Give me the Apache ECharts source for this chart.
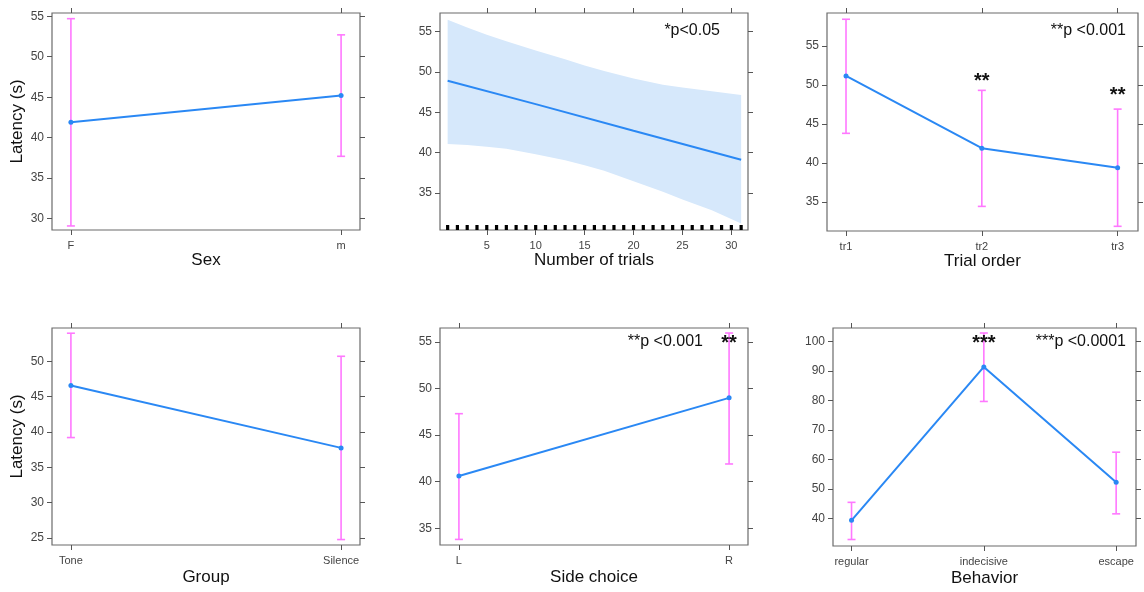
<!DOCTYPE html>
<html>
<head>
<meta charset="utf-8">
<script src="https://cdn.jsdelivr.net/npm/echarts@6/dist/echarts.min.js"></script>
<style>
  html, body { margin: 0; padding: 0; background: #fff; }
  #main { width: 1144px; height: 592px; }
</style>
</head>
<body>
<div id="main"></div>
<script>
// ---- data ----
var sexCats = ['F', 'm'];
var sexMean = [41.9, 45.2];
var sexLow = [29.1, 37.7];
var sexHigh = [54.7, 52.7];

// fitted line and its confidence band over trial number
var fitX = [1, 10, 20, 31];
var fitY = [48.9, 46.0, 42.7, 39.1];
var bandX = [1, 3, 5, 7, 10, 13, 15, 17, 20, 23, 25, 28, 31];
var bandUpper = [56.45, 55.5, 54.59, 53.8, 52.64, 51.57, 50.78, 50.12, 49.17, 48.42, 48.05, 47.6, 47.14];
var bandLower = [41.05, 40.93, 40.72, 40.47, 39.8, 39.06, 38.44, 37.74, 36.45, 35.13, 34.18, 32.85, 31.2];
var rugTrials = [1, 2, 3, 4, 5, 6, 7, 8, 9, 10, 11, 12, 13, 14, 15, 16, 17, 18, 19, 20, 21, 22, 23, 24, 25, 26, 27, 28, 29, 30, 31];

var orderCats = ['tr1', 'tr2', 'tr3'];
var orderMean = [51.15, 41.9, 39.4];
var orderLow = [43.8, 34.45, 31.9];
var orderHigh = [58.4, 49.3, 46.9];

var groupCats = ['Tone', 'Silence'];
var groupMean = [46.56, 37.74];
var groupLow = [39.2, 24.77];
var groupHigh = [53.96, 50.7];

var sideCats = ['L', 'R'];
var sideMean = [40.6, 49.0];
var sideLow = [33.8, 41.9];
var sideHigh = [47.3, 55.96];

var behavCats = ['regular', 'indecisive', 'escape'];
var behavMean = [39.3, 91.3, 52.2];
var behavLow = [32.8, 79.6, 41.5];
var behavHigh = [45.4, 102.8, 62.4];

// tick labels
var sexTicks = [30, 35, 40, 45, 50, 55];
var trialYTicks = [35, 40, 45, 50, 55];
var trialXTicks = [5, 10, 15, 20, 25, 30];
var orderTicks = [35, 40, 45, 50, 55];
var groupTicks = [25, 30, 35, 40, 45, 50];
var sideTicks = [35, 40, 45, 50, 55];
var behavTicks = [40, 50, 60, 70, 80, 90, 100];

// significance marks: [category position, latency, text]
var orderStars = [[2, 50.4, '**'], [3, 48.7, '**']];
var sideStars = [[2, 54.86, '**']];
var behavStars = [[2, 99.3, '***']];

// ---- layout ----
var BLUE = '#2a88f4';
var PINK = '#ff78ff';
var BAND = '#d6e8fb';
var TICK = '#555';
var LAB = '#444';
var FONT = 'Liberation Sans, Arial, sans-serif';

var panels = [
  { cats: sexCats, mean: sexMean, low: sexLow, high: sexHigh, yTicks: sexTicks,
    grid: { left: 52, top: 13, width: 308, height: 217 }, x: [0.93, 2.07], y: [28.6, 55.4],
    xName: 'Sex', xGap: 20, yName: 'Latency (s)' },
  { trial: true, yTicks: trialYTicks,
    grid: { left: 440, top: 13, width: 308, height: 217 }, x: [0.22, 31.7], y: [30.4, 57.3],
    xName: 'Number of trials', xGap: 20 },
  { cats: orderCats, mean: orderMean, low: orderLow, high: orderHigh, yTicks: orderTicks, stars: orderStars,
    grid: { left: 827, top: 13, width: 311, height: 218 }, x: [0.86, 3.15], y: [31.3, 59.2],
    xName: 'Trial order', xGap: 20 },
  { cats: groupCats, mean: groupMean, low: groupLow, high: groupHigh, yTicks: groupTicks,
    grid: { left: 52, top: 328, width: 308, height: 217 }, x: [0.93, 2.07], y: [24.0, 54.7],
    xName: 'Group', xGap: 24, yName: 'Latency (s)' },
  { cats: sideCats, mean: sideMean, low: sideLow, high: sideHigh, yTicks: sideTicks, stars: sideStars,
    grid: { left: 440, top: 328, width: 308, height: 217 }, x: [0.93, 2.07], y: [33.2, 56.5],
    xName: 'Side choice', xGap: 24 },
  { cats: behavCats, mean: behavMean, low: behavLow, high: behavHigh, yTicks: behavTicks, stars: behavStars,
    grid: { left: 833, top: 328, width: 303, height: 218 }, x: [0.86, 3.15], y: [30.6, 104.5],
    xName: 'Behavior', xGap: 24 }
];

var grids = [], xAxes = [], yAxes = [], series = [];

panels.forEach(function (p, i) {
  grids.push(Object.assign({ show: true, borderColor: '#6b6b6b', borderWidth: 1.2, backgroundColor: '#fff' }, p.grid));

  var xVals = p.trial ? trialXTicks : p.cats.map(function (c, k) { return k + 1; });
  var fmt = p.trial ? function (v) { return String(v); } : function (v) { return p.cats[Math.round(v) - 1]; };
  var tickStyle = { show: true, length: 5, inside: false, lineStyle: { color: TICK, width: 1 } };

  // bottom x axis with labels + title
  xAxes.push({
    type: 'value', gridIndex: i, position: 'bottom', min: p.x[0], max: p.x[1],
    axisLine: { show: false }, splitLine: { show: false },
    axisTick: Object.assign({ customValues: xVals }, tickStyle),
    axisLabel: { customValues: xVals, formatter: fmt, color: LAB, fontSize: 11, fontFamily: FONT, margin: 10 },
    name: p.xName, nameLocation: 'middle', nameGap: p.xGap,
    nameTextStyle: { fontSize: 17, color: '#111', fontFamily: FONT }
  });
  // top x axis, ticks only
  xAxes.push({
    type: 'value', gridIndex: i, position: 'top', min: p.x[0], max: p.x[1],
    axisLine: { show: false }, splitLine: { show: false },
    axisTick: Object.assign({ customValues: xVals }, tickStyle),
    axisLabel: { show: false, customValues: xVals }
  });
  // left y axis
  var yl = {
    type: 'value', gridIndex: i, position: 'left', min: p.y[0], max: p.y[1],
    axisLine: { show: false }, splitLine: { show: false },
    axisTick: Object.assign({ customValues: p.yTicks }, tickStyle),
    axisLabel: { customValues: p.yTicks, color: LAB, fontSize: 12, fontFamily: FONT, margin: 8 }
  };
  if (p.yName) {
    yl.name = p.yName; yl.nameLocation = 'middle'; yl.nameGap = 26;
    yl.nameTextStyle = { fontSize: 17, color: '#111', fontFamily: FONT };
  }
  yAxes.push(yl);
  // right y axis, ticks only
  yAxes.push({
    type: 'value', gridIndex: i, position: 'right', min: p.y[0], max: p.y[1],
    axisLine: { show: false }, splitLine: { show: false },
    axisTick: Object.assign({ customValues: p.yTicks }, tickStyle),
    axisLabel: { show: false, customValues: p.yTicks }
  });

  var xi = 2 * i, yi = 2 * i;

  if (p.trial) {
    // confidence band: one polygon built from upper edge then lower edge
    series.push({
      type: 'custom', xAxisIndex: xi, yAxisIndex: yi, z: 1, silent: true,
      data: bandX.map(function (x, k) { return [x, bandLower[k], bandUpper[k]]; }),
      encode: { x: 0, y: [1, 2] },
      renderItem: function (params, api) {
        if (params.dataIndex !== 0) return null;
        var pts = [];
        bandX.forEach(function (x, k) { pts.push(api.coord([x, bandUpper[k]])); });
        for (var k = bandX.length - 1; k >= 0; k--) pts.push(api.coord([bandX[k], bandLower[k]]));
        return { type: 'polygon', shape: { points: pts }, style: { fill: BAND } };
      }
    });
    series.push({
      type: 'line', xAxisIndex: xi, yAxisIndex: yi,
      data: fitX.map(function (x, k) { return [x, fitY[k]]; }),
      symbol: 'none', lineStyle: { color: BLUE, width: 2 }, z: 3
    });
    // rug
    series.push({
      type: 'custom', xAxisIndex: xi, yAxisIndex: yi, z: 4,
      data: rugTrials.map(function (x) { return [x]; }),
      renderItem: function (params, api) {
        var pt = api.coord([api.value(0), p.y[0]]);
        return { type: 'rect', shape: { x: pt[0] - 1.6, y: pt[1] - 5, width: 3.2, height: 5 }, style: { fill: '#000' } };
      }
    });
  } else {
    // error bars
    series.push({
      type: 'custom', xAxisIndex: xi, yAxisIndex: yi, z: 2,
      data: p.cats.map(function (c, k) { return [k + 1, p.low[k], p.high[k]]; }),
      encode: { x: 0, y: [1, 2] },
      renderItem: function (params, api) {
        var lo = api.coord([api.value(0), api.value(1)]);
        var hi = api.coord([api.value(0), api.value(2)]);
        var st = { stroke: PINK, lineWidth: 1.6 };
        return { type: 'group', children: [
          { type: 'line', shape: { x1: lo[0], y1: lo[1], x2: hi[0], y2: hi[1] }, style: st },
          { type: 'line', shape: { x1: hi[0] - 4, y1: hi[1], x2: hi[0] + 4, y2: hi[1] }, style: st },
          { type: 'line', shape: { x1: lo[0] - 4, y1: lo[1], x2: lo[0] + 4, y2: lo[1] }, style: st }
        ] };
      }
    });
    series.push({
      type: 'line', xAxisIndex: xi, yAxisIndex: yi, z: 3,
      data: p.cats.map(function (c, k) { return [k + 1, p.mean[k]]; }),
      symbol: 'circle', symbolSize: 5, itemStyle: { color: BLUE },
      lineStyle: { color: BLUE, width: 2 }
    });
    if (p.stars) {
      series.push({
        type: 'custom', xAxisIndex: xi, yAxisIndex: yi, z: 5,
        data: p.stars,
        renderItem: function (params, api) {
          var pt = api.coord([api.value(0), api.value(1)]);
          return { type: 'text', x: pt[0], y: pt[1], style: {
            text: p.stars[params.dataIndex][2], fill: '#111', fontSize: 20, fontWeight: 'bold',
            fontFamily: FONT, align: 'center', verticalAlign: 'middle' } };
        }
      });
    }
  }
});

function pText(txt, right, y) {
  return { type: 'text', right: 1144 - right, top: y - 9, style: {
    text: txt, fill: '#111', fontSize: 16, fontFamily: FONT } };
}

var option = {
  backgroundColor: '#fff',
  animation: false,
  grid: grids,
  xAxis: xAxes,
  yAxis: yAxes,
  series: series,
  graphic: [
    pText('*p<0.05', 720, 32),
    pText('**p <0.001', 1126, 32),
    pText('**p <0.001', 703, 343),
    pText('***p <0.0001', 1126, 343)
  ]
};

var chart = echarts.init(document.getElementById('main'));
chart.setOption(option);
</script>
</body>
</html>
